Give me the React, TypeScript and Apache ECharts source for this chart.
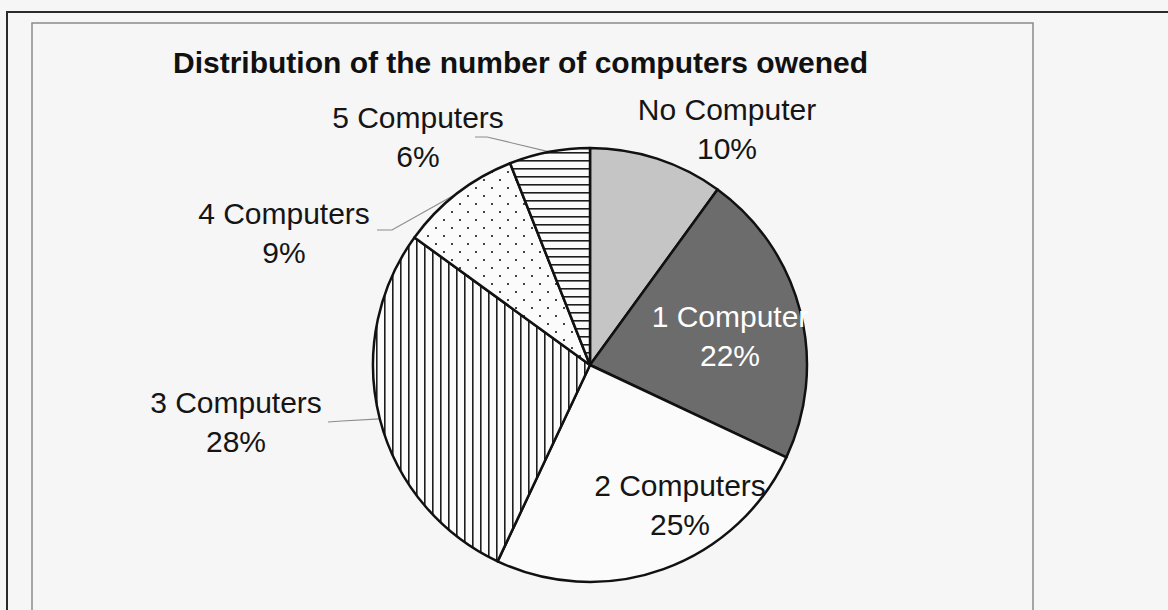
import React, { useEffect, useRef } from "react";
import * as echarts from "echarts";

// Share of households by number of computers owned (percent)
const categories = ["No Computer", "1 Computer", "2 Computers", "3 Computers", "4 Computers", "5 Computers"];
const shares = [10, 22, 25, 28, 9, 6];
const chartTitle = "Distribution of the number of computers owened";

// Centre of each two-line label block, in page pixels
const labelSpots: number[][] = [
  [727, 129],
  [730, 336],
  [680, 505],
  [236, 422],
  [284, 233],
  [418, 137],
];
// Leader line: [point next to the label, elbow]; null = no leader line
const leaderEnds: (number[][] | null)[] = [
  null,
  null,
  null,
  [[328, 422], [342, 421]],
  [[377, 230], [392, 230]],
  [[475, 137], [487, 137]],
];

const FONT = "'Liberation Sans', Arial, Helvetica, sans-serif";

function makeTile(w: number, h: number, draw: (ctx: CanvasRenderingContext2D) => void) {
  const c = document.createElement("canvas");
  c.width = w;
  c.height = h;
  const ctx = c.getContext("2d")!;
  ctx.fillStyle = "#fbfbfb";
  ctx.fillRect(0, 0, w, h);
  draw(ctx);
  return c;
}

export default function App() {
  const ref = useRef<HTMLDivElement>(null);

  useEffect(() => {
    if (!ref.current) return;
    const chart = echarts.init(ref.current, undefined, { renderer: "svg" });

    const verticalLines = makeTile(8, 8, (ctx) => {
      ctx.fillStyle = "#1e1e1e";
      ctx.fillRect(0, 0, 1.6, 8);
    });
    const dots = makeTile(16, 16, (ctx) => {
      ctx.fillStyle = "#444";
      ctx.fillRect(3, 3, 2, 2);
      ctx.fillRect(11, 11, 2, 2);
    });
    const horizontalLines = makeTile(8, 8, (ctx) => {
      ctx.fillStyle = "#1e1e1e";
      ctx.fillRect(0, 0, 8, 1.6);
    });

    const fills: any[] = [
      "#c5c5c5",
      "#6c6c6c",
      "#fbfbfb",
      { image: verticalLines, repeat: "repeat" },
      { image: dots, repeat: "repeat" },
      { image: horizontalLines, repeat: "repeat" },
    ];

    const data = categories.map((name, i) => ({
      name,
      value: shares[i],
      itemStyle: { color: fills[i] },
      label: { color: i === 1 ? "#ffffff" : "#151515" },
      labelLine: { show: leaderEnds[i] !== null },
    }));

    chart.setOption({
      animation: false,
      backgroundColor: "#f6f6f6",
      graphic: [
        {
          type: "rect",
          shape: { x: 7, y: 12, width: 1300, height: 800 },
          style: { fill: "none", stroke: "#2a2a2a", lineWidth: 2 },
        },
        {
          type: "rect",
          shape: { x: 32, y: 23, width: 1001, height: 800 },
          style: { fill: "none", stroke: "#8a8a8a", lineWidth: 1.5 },
        },
        {
          type: "text",
          x: 173,
          y: 62,
          style: {
            text: chartTitle,
            font: `bold 30px ${FONT}`,
            fill: "#111",
            textAlign: "left",
            textVerticalAlign: "middle",
          },
        },
      ],
      series: [
        {
          type: "pie",
          center: [590, 365],
          radius: 217,
          startAngle: 90,
          clockwise: true,
          avoidLabelOverlap: false,
          silent: true,
          emphasis: { disabled: true },
          itemStyle: { borderColor: "#111", borderWidth: 2.5 },
          label: {
            show: true,
            position: "outside",
            fontFamily: FONT,
            fontSize: 30,
            lineHeight: 39,
            align: "center",
            formatter: (p: any) => `${p.name}\n${p.value}%`,
          },
          labelLine: {
            show: true,
            lineStyle: { color: "#8c8c8c", width: 1.2 },
          },
          labelLayout: (p: any) => {
            const i = p.dataIndex;
            const [x, y] = labelSpots[i];
            const res: any = { x, y, align: "center", verticalAlign: "middle" };
            const lead = leaderEnds[i];
            if (lead && p.labelLinePoints) {
              res.labelLinePoints = [p.labelLinePoints[0], lead[1], lead[0]];
            }
            return res;
          },
          data,
        },
      ],
    });

    return () => chart.dispose();
  }, []);

  return (
    <div
      ref={ref}
      style={{ position: "fixed", left: 0, top: 0, width: 1168, height: 610, background: "#f6f6f6" }}
    />
  );
}
